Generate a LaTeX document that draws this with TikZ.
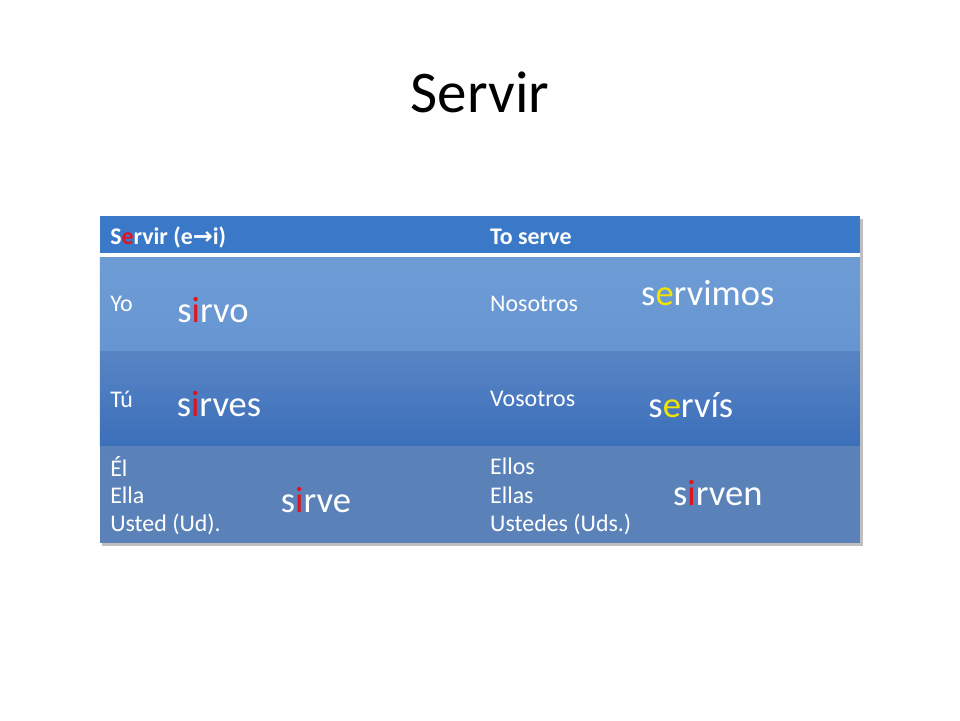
\documentclass[tikz,border=0pt]{standalone}
\usepackage{fontspec}
\setmainfont{Carlito}
\newfontfamily\arrowfont{DejaVu Sans}
\usetikzlibrary{positioning,shadows}
\definecolor{headblue}{HTML}{3A78C8}
\definecolor{rowone}{HTML}{6696D2}
\definecolor{rowtwo}{HTML}{3B6FBA}
\definecolor{rowthree}{HTML}{5A82B9}
\definecolor{stemred}{HTML}{E0141E}
\definecolor{stemyellow}{HTML}{F2E600}
\newcommand{\px}[2]{(#1*0.025,{(720-#2)*0.025})}
\begin{document}
\begin{tikzpicture}[x=1cm,y=1cm,
    small label/.style={text=white,font=\fontsize{17}{20}\selectfont,anchor=west,inner sep=0pt},
    head label/.style={small label,font=\fontsize{17}{20}\selectfont\bfseries},
    verb form/.style={text=white,font=\fontsize{26}{30}\selectfont,inner sep=0pt}]
\useasboundingbox (0,0) rectangle (24,18);
\node (title) at \px{480}{92} {\fontsize{42}{48}\selectfont Servir};
% table background
\fill[black!25] \px{102}{219} rectangle \px{863}{546};
\fill[headblue] \px{100}{216} rectangle \px{860}{253};
\fill[white] \px{100}{253} rectangle \px{860}{257};
\shade[top color=rowone!95!white,bottom color=rowone] \px{100}{257} rectangle \px{860}{351};
\shade[top color=rowtwo!85!white,bottom color=rowtwo] \px{100}{351} rectangle \px{860}{446};
\fill[rowthree] \px{100}{446} rectangle \px{860}{543};
% header
\node[head label] (inf) at \px{110}{237} {S\textcolor{stemred}{e}rvir (e{\arrowfont\bfseries →}i)};
\node[head label] (eng) at \px{490}{237} {To serve};
% rows
\node[small label] (yo) at \px{110}{304} {Yo};
\node[verb form] (sirvo) at \px{213}{310} {s\textcolor{stemred}{i}rvo};
\node[small label] (nos) at \px{490}{304} {Nosotros};
\node[verb form] (servimos) at \px{708}{293} {s\textcolor{stemyellow}{e}rvimos};
\node[small label] (tu) at \px{110}{399} {Tú};
\node[verb form] (sirves) at \px{219}{404} {s\textcolor{stemred}{i}rves};
\node[small label] (vos) at \px{490}{399} {Vosotros};
\node[verb form] (servis) at \px{691}{405} {s\textcolor{stemyellow}{e}rvís};
\node[small label] (el) at \px{110}{466} {Él};
\node[small label] (ella) at \px{110}{495} {Ella};
\node[small label] (ud) at \px{110}{524} {Usted (Ud).};
\node[verb form] (sirve) at \px{316}{500} {s\textcolor{stemred}{i}rve};
\node[small label] (ellos) at \px{490}{466} {Ellos};
\node[small label] (ellas) at \px{490}{495} {Ellas};
\node[small label] (uds) at \px{490}{524} {Ustedes (Uds.)};
\node[verb form] (sirven) at \px{718}{493} {s\textcolor{stemred}{i}rven};
\end{tikzpicture}
\end{document}
